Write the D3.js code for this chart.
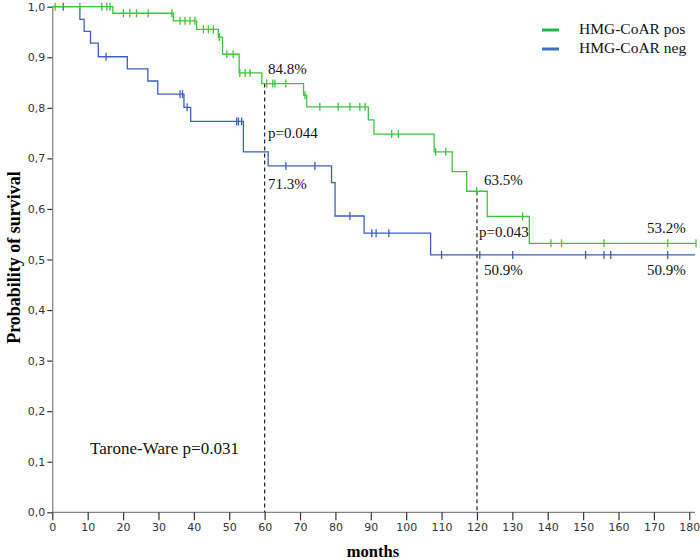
<!DOCTYPE html>
<html>
<head>
  <meta charset="utf-8">
  <title>Survival HMG-CoAR</title>
  <style>
    body { margin: 0; background: #fff; }
    svg text { font-family: "Liberation Serif", "Times New Roman", serif; }
  </style>
</head>
<body>
  <svg></svg>
  <script src="https://d3js.org/d3.v7.min.js"></script>
  <script>
    const width = 700;
    const height = 560;

    // step times (months) and survival right after each step
    const posTimes = [17.1, 34.2, 40.8, 46.9, 48.1, 52.8, 59.2, 71.0, 71.9, 89.3, 90.9, 107.9, 113.0, 117.1, 122.9, 134.8];
    const posSurv  = [0.987, 0.972, 0.955, 0.940, 0.906, 0.869, 0.848, 0.825, 0.802, 0.776, 0.748, 0.713, 0.674, 0.635, 0.585, 0.532];
    const posEnd = 181.9;
    const posCensor = [0.8, 7.8, 14, 15.4, 16.3, 20.1, 21.9, 23.8, 27.1, 33.8, 36.1, 37.5, 38.9, 40.3, 42.7, 44.1, 45.5,
      47.2, 49.3, 51.1, 53, 54.5, 55.9, 60.6, 62.3, 62.9, 66, 71.4, 75.6, 80.8, 84.1, 86.9, 88.4, 95.9, 97.8,
      108.3, 111.2, 119.9, 132.9, 140.9, 143.9, 155.9, 173.9, 181.9];

    const negTimes = [7.8, 9.0, 10.8, 13.0, 21.2, 27.0, 29.8, 37.2, 39.1, 54.0, 61.0, 78.9, 79.9, 88.1, 106.9];
    const negSurv  = [0.975, 0.951, 0.928, 0.901, 0.877, 0.853, 0.827, 0.801, 0.773, 0.713, 0.685, 0.652, 0.586, 0.552, 0.509];
    const negEnd = 181.6;
    const negCensor = [3.1, 15.2, 36.1, 36.8, 38.1, 52.1, 52.6, 53.5, 66, 74.2, 84.1, 90.3, 91.5, 95.1, 110, 120.8,
      130.1, 150.7, 155.9, 157.8, 173.9];

    const xTicks = d3.range(0, 181, 10);
    const yTicks = d3.range(0, 1.01, 0.1);

    const svg = d3.select("svg")
      .attr("width", width)
      .attr("height", height)
      .attr("viewBox", [0, 0, width, height]);

    const x = d3.scaleLinear([0, 180], [52.3, 689.3]);
    const y = d3.scaleLinear([0, 1], [512.3, 6.7]);

    const axisColor = "#666";

    // axes
    const gx = svg.append("g")
      .attr("transform", `translate(0,${y(0)})`)
      .call(d3.axisBottom(x).tickValues(xTicks).tickSize(8).tickSizeOuter(0).tickPadding(3));
    gx.select(".domain").attr("d", `M${x(0)},0H695`);
    const gy = svg.append("g")
      .attr("transform", `translate(${x(0)},0)`)
      .call(d3.axisLeft(y).tickValues(yTicks).tickSize(5).tickSizeOuter(0).tickPadding(2)
        .tickFormat(d => d3.format(".1f")(d).replace(".", ",")));
    [gx, gy].forEach(g => {
      g.select(".domain").attr("stroke", axisColor);
      g.selectAll(".tick line").attr("stroke", "#333").attr("stroke-width", 1.2);
      g.selectAll(".tick text")
        .attr("fill", "#333")
        .style("font-family", "'DejaVu Sans', sans-serif")
        .style("font-size", "11px");
    });

    // reference lines at 60 and 120 months
    const stepAt = (times, surv, t) => {
      let s = 1;
      times.forEach((tt, i) => { if (tt <= t) s = surv[i]; });
      return s;
    };
    [60, 120].forEach(t => {
      svg.append("line")
        .attr("x1", x(t)).attr("x2", x(t))
        .attr("y1", y(stepAt(posTimes, posSurv, t))).attr("y2", y(0))
        .attr("stroke", "#222").attr("stroke-width", 1.2)
        .attr("stroke-dasharray", "4,3");
    });

    function curve(times, surv, end, censor, color) {
      const pts = [[0, 1]];
      times.forEach((t, i) => pts.push([t, surv[i]]));
      pts.push([end, surv[surv.length - 1]]);
      const line = d3.line().curve(d3.curveStepAfter)
        .x(d => x(d[0])).y(d => y(d[1]));
      svg.append("path")
        .attr("d", line(pts))
        .attr("fill", "none")
        .attr("stroke", color)
        .attr("stroke-width", 1.3);
      svg.append("g").selectAll("line")
        .data(censor)
        .join("line")
        .attr("x1", d => x(d)).attr("x2", d => x(d))
        .attr("y1", d => y(stepAt(times, surv, d)) - 4)
        .attr("y2", d => y(stepAt(times, surv, d)) + 4)
        .attr("stroke", color)
        .attr("stroke-width", 1.3);
    }
    curve(negTimes, negSurv, negEnd, negCensor, "#3d5fc0");
    curve(posTimes, posSurv, posEnd, posCensor, "#3ec43e");

    // annotations
    const notes = [
      ["84.8%", 268, 73.5], ["p=0.044", 268, 137.5], ["71.3%", 268, 188.5],
      ["63.5%", 484, 185], ["p=0.043", 479, 236.5], ["50.9%", 484, 275],
      ["53.2%", 647, 232.5], ["50.9%", 647, 275]
    ];
    svg.append("g").selectAll("text")
      .data(notes)
      .join("text")
      .attr("x", d => d[1]).attr("y", d => d[2])
      .attr("fill", "#111")
      .style("font-size", "15px")
      .text(d => d[0]);
    svg.append("text")
      .attr("x", 90).attr("y", 454)
      .attr("fill", "#111")
      .attr("textLength", 149)
      .style("font-size", "17px")
      .text("Tarone-Ware p=0.031");

    // legend
    const legend = [["HMG-CoAR pos", "#1fb84a"], ["HMG-CoAR neg", "#3a72c4"]];
    const lg = svg.append("g").selectAll("g")
      .data(legend)
      .join("g")
      .attr("transform", (d, i) => `translate(0,${30 + i * 19})`);
    lg.append("line")
      .attr("x1", 542).attr("x2", 559)
      .attr("stroke", d => d[1]).attr("stroke-width", 3);
    lg.append("text")
      .attr("x", 579).attr("y", 3.5)
      .attr("fill", "#111")
      .style("font-size", "15.5px")
      .text(d => d[0]);

    // axis titles
    svg.append("text")
      .attr("transform", `translate(20,${(y(0) + y(1)) / 2 - 2}) rotate(-90)`)
      .attr("text-anchor", "middle")
      .style("font-size", "18px")
      .style("font-weight", "bold")
      .text("Probability of survival");
    svg.append("text")
      .attr("x", 373).attr("y", 557)
      .attr("text-anchor", "middle")
      .style("font-size", "16.5px")
      .style("font-weight", "bold")
      .text("months");
  </script>
</body>
</html>
